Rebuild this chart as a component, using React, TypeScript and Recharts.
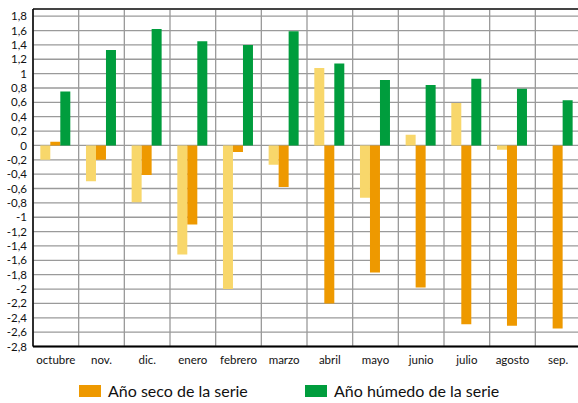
import React from "react";
import { BarChart, Bar, XAxis, YAxis, CartesianGrid, ReferenceLine } from "recharts";

const months = ["octubre", "nov.", "dic.", "enero", "febrero", "marzo", "abril", "mayo", "junio", "julio", "agosto", "sep."];
const serieMedia = [-0.2, -0.5, -0.79, -1.52, -2.0, -0.27, 1.08, -0.73, 0.15, 0.59, -0.06, 0];
const serieSeca = [0.05, -0.2, -0.41, -1.1, -0.09, -0.58, -2.2, -1.77, -1.98, -2.49, -2.51, -2.55];
const serieHumeda = [0.75, 1.33, 1.62, 1.45, 1.4, 1.59, 1.14, 0.91, 0.84, 0.93, 0.79, 0.63];
const yTicks = [-2.8, -2.6, -2.4, -2.2, -2, -1.8, -1.6, -1.4, -1.2, -1, -0.8, -0.6, -0.4, -0.2, 0, 0.2, 0.4, 0.6, 0.8, 1, 1.2, 1.4, 1.6, 1.8];
const legendItems = [
  { label: "Año seco de la serie", color: "#EE9900" },
  { label: "Año húmedo de la serie", color: "#009D3D" },
];

const data = months.map((m, i) => ({
  month: m,
  media: serieMedia[i],
  seca: serieSeca[i],
  humeda: serieHumeda[i],
}));

const fmt = (v: number) => {
  const s = (Math.round(v * 10) / 10).toString();
  return s.replace(".", ",");
};

const FONT = "Lato, 'Open Sans', sans-serif";

export default function App() {
  return (
    <div style={{ position: "fixed", left: 0, top: 0, width: 578, height: 403, overflow: "hidden", background: "#fff" }}>
      <BarChart
        width={590}
        height={403}
        data={data}
        margin={{ top: 9, right: 9, left: 0, bottom: 0 }}
        barCategoryGap="16%"
        barGap={0}
      >
        <CartesianGrid
          stroke="#9a9a9a"
          strokeWidth={1.3}
          verticalCoordinatesGenerator={({ offset }: any) =>
            months.map((_, i) => offset.left + (i * offset.width) / months.length).concat([offset.left + offset.width])
          }
        />
        <XAxis
          dataKey="month"
          height={56.5}
          tickSize={0}
          tickMargin={9}
          tickLine={false}
          axisLine={{ stroke: "#000", strokeWidth: 2 }}
          interval={0}
          tick={{ fill: "#111", fontSize: 11.5, fontFamily: FONT }}
        />
        <YAxis
          width={33}
          domain={[-2.8, 1.9]}
          ticks={yTicks}
          interval={0}
          allowDataOverflow
          tickSize={0}
          tickMargin={6}
          tickLine={false}
          tickFormatter={fmt}
          axisLine={{ stroke: "#000", strokeWidth: 1.5 }}
          tick={{ fill: "#111", fontSize: 11.5, fontFamily: FONT }}
        />
        <ReferenceLine y={1.9} stroke="#444" strokeWidth={2} />
        <Bar dataKey="media" fill="#F8D76B" isAnimationActive={false} legendType="none" />
        <Bar dataKey="seca" name="Año seco de la serie" fill="#EE9900" isAnimationActive={false} />
        <Bar dataKey="humeda" name="Año húmedo de la serie" fill="#009D3D" isAnimationActive={false} />
      </BarChart>
      <div style={{ position: "absolute", left: 79, top: 381, display: "flex", fontFamily: FONT, fontSize: 16, color: "#111" }}>
        {legendItems.map((it, i) => (
          <div key={it.label} style={{ display: "flex", alignItems: "center", width: i === 0 ? 226 : "auto" }}>
            <span style={{ display: "inline-block", width: 22, height: 12, background: it.color, marginRight: 7 }} />
            <span style={{ whiteSpace: "nowrap" }}>{it.label}</span>
          </div>
        ))}
      </div>
    </div>
  );
}
